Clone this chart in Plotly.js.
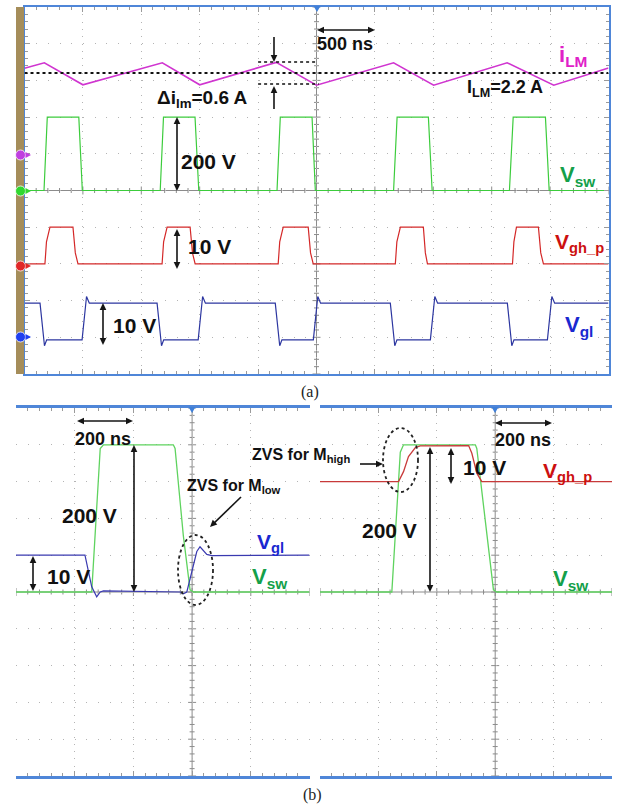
<!DOCTYPE html>
<html><head><meta charset="utf-8">
<script src="https://cdn.plot.ly/plotly-3.0.1.min.js"></script>
<style>html,body{margin:0;padding:0;background:#fff;}#c{width:621px;height:808px;}</style>
</head><body><div id="c"></div>
<script>
// ---------- DATA ----------
// (a) 500 ns/div, time in ns, trigger at 0
const a_vsw_t = [-2500,-2333,-2305,-2035,-2005,-1338,-1310,-1040,-1008,-338,-310,-38,-10,660,690,958,990,1652,1684,1960,1992,2500];
const a_vsw_v = [0,0,200,200,0,0,200,200,0,0,200,200,0,0,200,200,0,0,200,200,0,0];           // V
const a_ilm_t = [-2500,-2330,-2000,-1320,-1000,-345,0,660,1003,1632,2031,2500];
const a_ilm_v = [2.33,2.48,1.88,2.48,1.88,2.49,1.87,2.48,1.87,2.48,1.87,2.34];               // A
const a_vgh_t = [-2500,-2325,-2312,-2282,-2085,-2065,-2042,-1322,-1309,-1279,-1082,-1062,-1039,-328,-315,-285,-71,-51,-28,675,688,718,915,932,950,1678,1690,1712,1900,1920,1943,2500];
const a_vgh_v = [0,0,6,10,10,3,0,0,6,10,10,3,0,0,6,10,10,3,0,0,6,10,10,3,0,0,6,10,10,3,0,0]; // V
const a_vgl_t = [-2500,-2367,-2329,-2310,-2007,-1969,-1945,-1365,-1327,-1308,-1013,-975,-951,-353,-315,-296,-27,11,35,632,670,689,975,1013,1037,1634,1672,1691,1977,2015,2039,2500];
const a_vgl_v = [10,10,-1.6,0,0,11.8,10,10,-1.6,0,0,11.8,10,10,-1.6,0,0,11.8,10,10,-1.6,0,0,11.8,10,10,-1.6,0,0,11.8,10,10]; // V
const ILM_AVG = 2.2, ILM_RIPPLE = 0.6;
// (b) left, 200 ns/div
const bl_vsw_t = [-600,-342,-313,-302,-64,-58,-30,-7,5,400];
const bl_vsw_v = [0,0,195,200,200,195,77,3,0,0];
const bl_vgl_t = [-600,-365,-342,-325,-313,-302,-41,-30,-18,16,27,50,67,400];
const bl_vgl_v = [10,10,1.4,-1.3,0,0.3,0,-0.5,0,11,12.3,10.2,9.9,10];
// (b) right, 200 ns/div
const br_vsw_t = [-600,-354,-325,-314,-68,-63,-28,-6,5,400];
const br_vsw_v = [0,0,190,200,200,195,77,3,0,0];
const br_vgh_t = [-600,-331,-314,-297,-274,-257,-91,-80,-63,-46,400];
const br_vgh_v = [0,0,2.7,6.8,9.2,9.7,9.8,7.7,2.3,0,0];

// ---------- helpers ----------
const W=621,H=808;
const px=x=>x/W, py=y=>1-y/H;
const FONT='"Liberation Sans", Arial, sans-serif';
const GREEN='#3ccc3c', RED='#d42828', BLUE='#2c36a0', MAG='#d035d0';
const BORDER='#4f86d8', TICK='#9a9a9a', GRID='#b4b4b4';

function line(x,y,xa,ya,color,w){return {x:x,y:y,xaxis:xa,yaxis:ya,type:'scatter',mode:'lines',line:{color:color,width:w||1.2},hoverinfo:'skip'};}

const traces=[
  line(a_ilm_t,a_ilm_v,'x','y2',MAG,1.6),
  line(a_vsw_t,a_vsw_v,'x','y',GREEN,1.2),
  line(a_vgh_t,a_vgh_v,'x','y3',RED,1.2),
  line(a_vgl_t,a_vgl_v,'x','y4',BLUE,1.2),
  line(bl_vgl_t,bl_vgl_v,'x2','y6','#3a3ab0',1.2),
  line(bl_vsw_t,bl_vsw_v,'x2','y5','#5fd35f',1.3),
  line(br_vsw_t,br_vsw_v,'x3','y7','#5fd35f',1.3),
  line(br_vgh_t,br_vgh_v,'x3','y8','#c83a3a',1.3)
];

function xax(dom,range,dtick,anchor,lw){
  return {domain:dom,range:range,anchor:anchor,showline:true,linecolor:BORDER,linewidth:lw,mirror:'ticks',
    ticks:'inside',ticklen:5,tickwidth:1,tickcolor:TICK,tick0:0,dtick:dtick,
    minor:{dtick:dtick/5,ticks:'inside',ticklen:3,tickcolor:TICK,showgrid:false},
    showgrid:true,gridcolor:GRID,griddash:'1px,6.3px',gridwidth:1,zeroline:false,showticklabels:false,fixedrange:true};
}
function yax(dom,range,dtick,anchor,withLine){
  const o={domain:dom,range:range,anchor:anchor,tick0:0,dtick:dtick,showgrid:true,gridcolor:GRID,griddash:'1px,10.7px',
    gridwidth:1,zeroline:false,showticklabels:false,fixedrange:true};
  if(withLine){Object.assign(o,{showline:true,linecolor:BORDER,linewidth:2,mirror:'ticks',ticks:'inside',ticklen:5,tickcolor:TICK,
    minor:{dtick:dtick/5,ticks:'inside',ticklen:3,tickcolor:TICK,showgrid:false}});}
  else {Object.assign(o,{showline:false,ticks:''});}
  return o;
}
const domA_x=[px(24.5),px(608.5)], domA_y=[py(374),py(7)];
const domL_x=[px(16),px(309.5)], domR_x=[px(320),px(612)], domB_y=[py(776),py(408)];

// center cross with small ticks
function cross(xref,yref,xr,yr,xMinor,yMinor,wPx,hPx){
  const ux=(xr[1]-xr[0])/wPx, uy=(yr[1]-yr[0])/hPx;
  let p='', i=0;
  for(let v=yr[0];v<=yr[1]+1e-9;v+=yMinor,i++){const h=(i%5===0?4:2.5)*ux;p+='M'+(-h)+','+v+'L'+h+','+v;}
  for(let t=xr[0];t<=xr[1]+1e-9;t+=xMinor){const h=(Math.round(t/xMinor)%5===0?4:2.5)*uy;p+='M'+t+','+(-h)+'L'+t+','+h;}
  return [
    {type:'line',xref:xref,yref:yref,x0:0,x1:0,y0:yr[0],y1:yr[1],line:{color:'#8c8c8c',width:1},layer:'below'},
    {type:'line',xref:xref,yref:yref,x0:xr[0],x1:xr[1],y0:0,y1:0,line:{color:'#8c8c8c',width:1},layer:'below'},
    {type:'path',xref:xref,yref:yref,path:p,line:{color:'#8c8c8c',width:1},layer:'below'}
  ];
}
function P(pts,close){return pts.map((q,i)=>(i?'L':'M')+px(q[0]).toFixed(5)+','+py(q[1]).toFixed(5)).join('')+(close?'Z':'');}
function chan(y,color){
  return [
    {type:'circle',xref:'paper',yref:'paper',x0:px(15.5),x1:px(25.5),y0:py(y+5),y1:py(y-5),fillcolor:color,line:{color:'#ffffff',width:0.8},layer:'above'},
    {type:'path',xref:'paper',yref:'paper',path:P([[25.5,y-3],[31,y],[25.5,y+3]],true),fillcolor:color,line:{width:0}}
  ];
}
function trig(x,y){return {type:'path',xref:'paper',yref:'paper',path:P([[x-3.5,y-1],[x+3.5,y-1],[x,y+5]],true),fillcolor:'#3f7fd8',line:{width:0}};}
// arrows drawn as shapes (shaft + filled heads), pixel geometry
function arrow(x0,y0,x1,y1,dbl){
  const L=7, w=3.3, dx=x1-x0, dy=y1-y0, len=Math.hypot(dx,dy), ux=dx/len, uy=dy/len, nx=-uy, ny=ux;
  const sx0 = dbl? x0+ux*L*0.8 : x0, sy0 = dbl? y0+uy*L*0.8 : y0;
  const out=[{type:'path',xref:'paper',yref:'paper',path:P([[sx0,sy0],[x1-ux*L*0.8,y1-uy*L*0.8]]),line:{color:'#151515',width:1.6}}];
  const head=(tx,ty,sx,sy)=>({type:'path',xref:'paper',yref:'paper',
      path:P([[tx,ty],[tx-sx*L+nx*w,ty-sy*L+ny*w],[tx-sx*L-nx*w,ty-sy*L-ny*w]],true),fillcolor:'#151515',line:{width:0}});
  out.push(head(x1,y1,ux,uy));
  if(dbl) out.push(head(x0,y0,-ux,-uy));
  return out;
}

const shapes=[
  {type:'rect',xref:'paper',yref:'paper',x0:px(16),x1:px(24),y0:py(374),y1:py(7),fillcolor:'#a58d5a',line:{width:0}},
  ...cross('x','y',[-2500,2500],[-500,500],100,20,584,367),
  ...cross('x2','y5',[-600,400],[-250,250],40,10,293.5,368),
  ...cross('x3','y7',[-600,400],[-250,250],40,10,292,368),
  {type:'line',xref:'x',yref:'y2',x0:-2500,x1:2500,y0:ILM_AVG,y1:ILM_AVG,line:{color:'#111',width:2,dash:'dot'}},
  {type:'line',xref:'x',yref:'y2',x0:-500,x1:0,y0:ILM_AVG+ILM_RIPPLE/2,y1:ILM_AVG+ILM_RIPPLE/2,line:{color:'#111',width:1.6,dash:'dot'}},
  {type:'line',xref:'x',yref:'y2',x0:-500,x1:20,y0:ILM_AVG-ILM_RIPPLE/2,y1:ILM_AVG-ILM_RIPPLE/2,line:{color:'#111',width:1.6,dash:'dot'}},
  {type:'circle',xref:'paper',yref:'paper',x0:px(178),x1:px(213),y0:py(605),y1:py(535),line:{color:'#222',width:1.8,dash:'dot'}},
  {type:'circle',xref:'paper',yref:'paper',x0:px(383),x1:px(418),y0:py(492),y1:py(428),line:{color:'#222',width:1.8,dash:'dot'}},
  ...chan(155,'#c040e0'),...chan(191,'#30d830'),...chan(266,'#e02828'),...chan(337,'#2040f0'),
  trig(317,7),trig(192,408),trig(495,408),
  // (a) arrows
  ...arrow(317,30,375,30,true),
  ...arrow(274,37,274,62,false), ...arrow(274,109,274,86,false),
  ...arrow(177,117,177,191,true),
  ...arrow(177,229,177,269,true),
  ...arrow(103,303,103,345,true),
  // (b) arrows
  ...arrow(77,421,133,421,true),
  ...arrow(134,445,134,592,true),
  ...arrow(33,556,33,591,true),
  ...arrow(241,497,210,527,false),
  ...arrow(360,464,383,464,false),
  ...arrow(495,423,552,423,true),
  ...arrow(451,448,451,484,true),
  ...arrow(430,447,430,592,true)
];

function T(x,y,text,size,color,extra){
  return Object.assign({xref:'paper',yref:'paper',x:px(x),y:py(y),text:text,showarrow:false,xanchor:'left',yanchor:'middle',
    font:{family:FONT,size:size,color:color||'#111',weight:'bold'}},extra||{});
}
const SERIF='"Liberation Serif", "Times New Roman", serif';
const annotations=[
  // (a)
  T(557,56,'i<sub>LM</sub>',22,'#e020c8'),
  T(315,44,'500 ns',18),
  T(155,98.5,'Δi<sub>lm</sub>=0.6 A',19),
  T(465,89,'I<sub>LM</sub>=2.2 A',18),
  T(179,161,'200 V',21),
  T(558,176,'V<sub>sw</sub>',22,'#14a04a'),
  T(186,247,'10 V',21),
  T(553,243,'V<sub>gh_p</sub>',21,'#cc1010'),
  T(111,325,'10 V',21),
  T(563,326,'V<sub>gl</sub>',22,'#1a28d0'),
  T(603,318,'←',9,'#2030a0',{xanchor:'center'}),
  T(310,392,'(a)',16,'#222',{xanchor:'center',font:{family:SERIF,size:16,color:'#222'}}),
  // (b) left
  T(73,439,'200 ns',18),
  T(60,515,'200 V',21),
  T(45,576,'10 V',21),
  T(185,486,'ZVS for M<sub>low</sub>',16),
  T(255,543,'V<sub>gl</sub>',21,'#1a28d0'),
  T(250,578,'V<sub>sw</sub>',22,'#14a04a'),
  // (b) right
  T(250,456,'ZVS for M<sub>high</sub>',16),
  T(493,440,'200 ns',18),
  T(461,468,'10 V',21),
  T(541,472,'V<sub>gh_p</sub>',21,'#cc1010'),
  T(360,530,'200 V',21),
  T(551,580,'V<sub>sw</sub>',22,'#14a04a'),
  T(312,795,'(b)',16,'#222',{xanchor:'center',font:{family:SERIF,size:16,color:'#222'}})
];

const layout={
  width:W,height:H,margin:{l:0,r:0,t:0,b:0},paper_bgcolor:'#fff',plot_bgcolor:'#fff',showlegend:false,
  font:{family:FONT},
  xaxis:xax(domA_x,[-2500,2500],500,'y',2),
  yaxis:yax(domA_y,[-500,500],100,'x',true),
  yaxis2:{overlaying:'y',anchor:'x',range:[-6,4],visible:false,fixedrange:true},
  yaxis3:{overlaying:'y',anchor:'x',range:[-30,70],visible:false,fixedrange:true},
  yaxis4:{overlaying:'y',anchor:'x',range:[-9.3,90.7],visible:false,fixedrange:true},
  xaxis2:xax(domL_x,[-600,400],200,'y5',3),
  yaxis5:yax(domB_y,[-250,250],50,'x2',false),
  yaxis6:{overlaying:'y5',anchor:'x2',range:[-50,50],visible:false,fixedrange:true},
  xaxis3:xax(domR_x,[-600,400],200,'y7',3),
  yaxis7:yax(domB_y,[-250,250],50,'x3',false),
  yaxis8:{overlaying:'y7',anchor:'x3',range:[-80,20],visible:false,fixedrange:true},
  shapes:shapes,annotations:annotations
};
Plotly.newPlot('c',traces,layout,{displayModeBar:false,staticPlot:true});
</script></body></html>
